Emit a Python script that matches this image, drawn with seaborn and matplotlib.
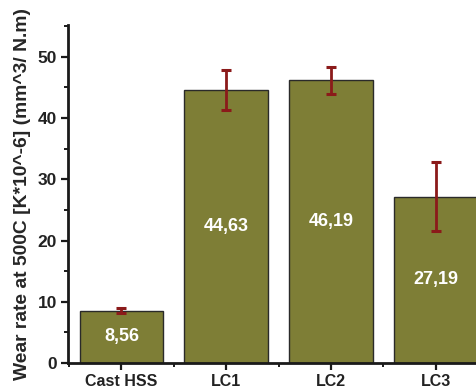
import matplotlib
matplotlib.use("Agg")
import matplotlib.pyplot as plt
from matplotlib.ticker import MultipleLocator, FixedLocator
import seaborn as sns
import pandas as pd

materials = ["Cast HSS", "LC1", "LC2", "LC3"]
wear_rate = [8.56, 44.63, 46.19, 27.19]
wear_err = [0.4, 3.3, 2.2, 5.6]
value_labels = ["8,56", "44,63", "46,19", "27,19"]

sns.set_theme(style="ticks")
plt.rcParams["font.family"] = ["Liberation Sans", "DejaVu Sans"]
plt.rcParams["font.weight"] = "bold"

df = pd.DataFrame({"material": materials, "wear": wear_rate})

fig = plt.figure(figsize=(4.77, 3.90), dpi=100)
ax = fig.add_axes([0.1426, 0.0692, 0.8574, 0.8667])

sns.barplot(data=df, x="material", y="wear", ax=ax, color="#7e7e36",
            saturation=1, width=0.8, edgecolor="#2a2a2a", linewidth=1.0,
            errorbar=None)

positions = list(range(len(materials)))
ax.errorbar(positions, wear_rate, yerr=wear_err, fmt="none",
            ecolor="#8b1a1a", elinewidth=2.0, capsize=3.8, capthick=2.2, zorder=5)

for x, v, lab in zip(positions, wear_rate, value_labels):
    ax.text(x, v / 2, lab, ha="center", va="center", color="white",
            fontsize=13, fontweight="bold", zorder=6)

ax.set_xlim(-0.51, 3.395)
ax.set_ylim(0, 55.2)
ax.yaxis.set_major_locator(MultipleLocator(10))
ax.yaxis.set_minor_locator(MultipleLocator(5))
ax.xaxis.set_minor_locator(FixedLocator([-0.5, 0.5, 1.5, 2.5]))

ax.set_xlabel("")
ax.set_ylabel("Wear rate at 500C [K*10^-6] (mm^3/ N.m)", fontsize=13.9,
              fontweight="bold", labelpad=5)

for side in ["top", "right"]:
    ax.spines[side].set_visible(False)
for side in ["left", "bottom"]:
    ax.spines[side].set_linewidth(2.0)
    ax.spines[side].set_color("#1a1a1a")

ax.tick_params(axis="both", which="major", direction="out", length=5,
               width=1.6, colors="#1a1a1a", pad=3)
ax.tick_params(axis="y", which="major", labelsize=12.5)
ax.tick_params(axis="x", which="major", labelsize=11.5)
ax.tick_params(axis="both", which="minor", direction="out", length=3,
               width=1.4, colors="#1a1a1a")
for lbl in ax.get_xticklabels() + ax.get_yticklabels():
    lbl.set_fontweight("bold")
    lbl.set_color("#222222")

fig.savefig("out.png", dpi=100)
